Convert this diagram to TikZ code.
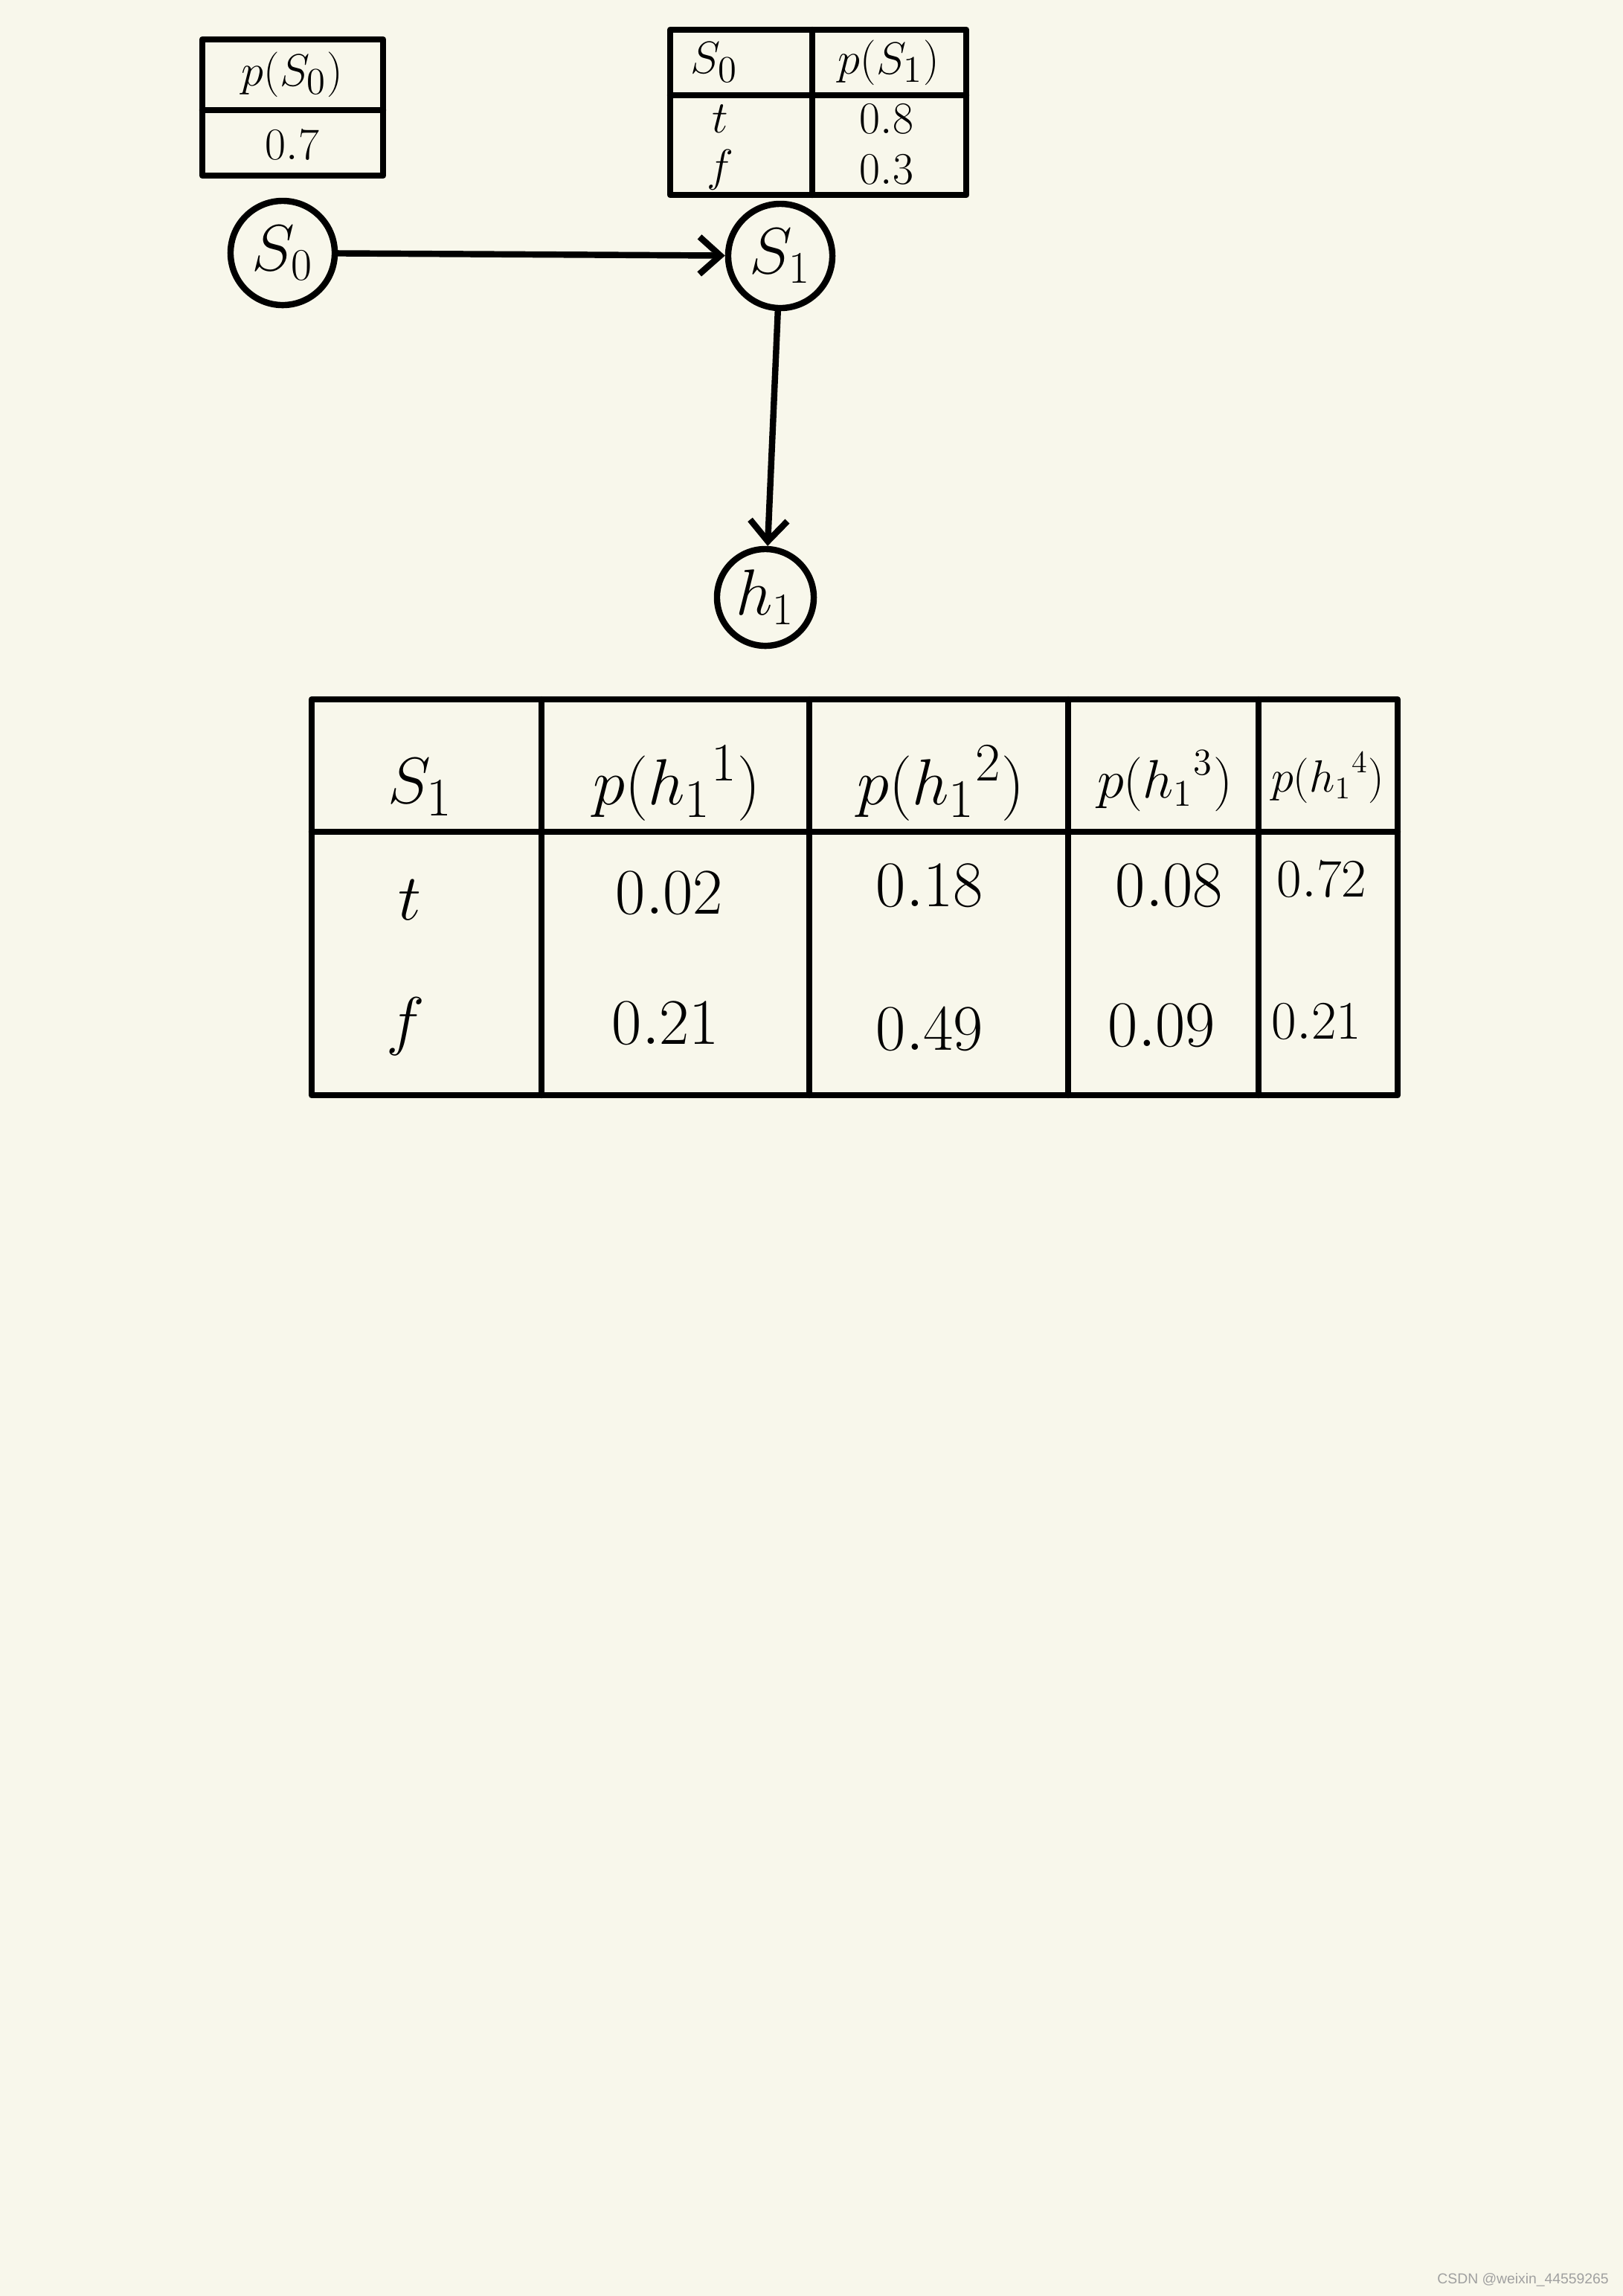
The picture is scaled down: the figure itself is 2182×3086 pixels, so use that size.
\documentclass[tikz,border=0pt]{standalone}
\usepackage{amsmath}
\usepackage{fontspec}
\setsansfont{Liberation Sans}
\usetikzlibrary{arrows.meta}
\definecolor{paper}{HTML}{F8F7EB}
\definecolor{markgray}{HTML}{A0A0A0}
\begin{document}
\begin{tikzpicture}[x=0.01cm, y=-0.01cm, line width=2.4pt, line cap=round, line join=round,
  statenode/.style={draw, circle, inner sep=0pt, minimum size=1.4cm, font=\fontsize{24}{28}\selectfont},
  smallcell/.style={inner sep=0pt, font=\fontsize{19}{22}\selectfont},
  bigcell/.style={inner sep=0pt, font=\fontsize{28}{32}\selectfont},
  numcell/.style={inner sep=0pt, font=\fontsize{26}{30}\selectfont},
  link/.style={-{Straight Barb[length=0.28cm, width=0.5cm]}}]
            \fill[paper] (0,0) rectangle (2182,3086);
            \useasboundingbox (0,0) rectangle (2182,3086);
            % table of S0
            \draw (272,53) rectangle (515,236);
            \draw (272,148) -- (515,148);
            \node[smallcell] (ps0) at (393,100) {$p(S_0)$};
            \node[smallcell] (ps0v) at (393,195) {$0.7$};
            % table of S1
            \draw (901,40) rectangle (1299,262);
            \draw (1092,40) -- (1092,262);
            \draw (901,128) -- (1299,128);
            \node[smallcell] (s0head) at (960,84) {$S_0$};
            \node[smallcell] (ps1) at (1195,84) {$p(S_1)$};
            \node[smallcell] (s0t) at (968,160) {$t$};
            \node[smallcell] (s0f) at (968,228) {$f$};
            \node[smallcell] (ps1t) at (1192,160) {$0.8$};
            \node[smallcell] (ps1f) at (1192,228) {$0.3$};
            % states
            \node[statenode] (s0) at (380,340) {$S_0$};
            \node[statenode] (s1) at (1049,344) {$S_1$};
            \node[statenode, minimum size=1.3cm] (h1) at (1029,803) {$h_1$};
            \draw[link] (s0) -- (s1);
            \draw[link] (s1) -- (h1);
            % table of h1
            \draw (419,940) rectangle (1879,1472);
            \draw (419,1118) -- (1879,1118);
            \draw (728,940) -- (728,1472);
            \draw (1088,940) -- (1088,1472);
            \draw (1436,940) -- (1436,1472);
            \draw (1692,940) -- (1692,1472);
            \node[bigcell, font=\fontsize{30}{34}\selectfont] (s1head) at (565,1058) {$S_1$};
            \node[bigcell] (ph1) at (910,1053) {$p({h_1}^{1})$};
            \node[bigcell] (ph2) at (1265,1053) {$p({h_1}^{2})$};
            \node[bigcell, font=\fontsize{22}{26}\selectfont] (ph3) at (1566,1050) {$p({h_1}^{3})$};
            \node[bigcell, font=\fontsize{17}{21}\selectfont] (ph4) at (1785,1045) {$p({h_1}^{4})$};
            \node[bigcell, font=\fontsize{30}{34}\selectfont] (s1t) at (551,1210) {$t$};
            \node[bigcell, font=\fontsize{30}{34}\selectfont] (s1f) at (545,1380) {$f$};
            \node[numcell] (ph1t) at (900,1200) {$0.02$};
            \node[numcell] (ph2t) at (1250,1190) {$0.18$};
            \node[numcell] (ph3t) at (1572,1190) {$0.08$};
            \node[numcell, font=\fontsize{22}{26}\selectfont] (ph4t) at (1777,1182) {$0.72$};
            \node[numcell] (ph1f) at (895,1375) {$0.21$};
            \node[numcell] (ph2f) at (1250,1383) {$0.49$};
            \node[numcell] (ph3f) at (1562,1378) {$0.09$};
            \node[numcell, font=\fontsize{22}{26}\selectfont] (ph4f) at (1770,1373) {$0.21$};
            % watermark
            \node[anchor=east, inner sep=0pt, text=markgray, font=\sffamily\fontsize{5.5}{6.5}\selectfont] (mark) at (2167,3064) {CSDN @weixin\_44559265};
        \end{tikzpicture}
\end{document}
